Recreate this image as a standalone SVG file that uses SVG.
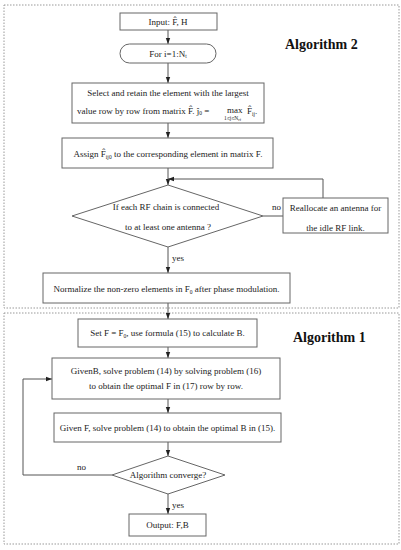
<svg xmlns="http://www.w3.org/2000/svg" width="401" height="550" viewBox="0 0 401 550">
<defs>
<marker id="ah" markerUnits="userSpaceOnUse" markerWidth="6" markerHeight="6" viewBox="0 0 6 6" refX="6" refY="3" orient="auto">
<path d="M0,0.8 L6,3 L0,5.2 Z" fill="#222"/>
</marker>
<style>
.box{fill:#fff;stroke:#666;stroke-width:1}
.frame{fill:none;stroke:#999;stroke-width:1;stroke-dasharray:1.5,1.5}
.t{font-family:"Liberation Serif","Times New Roman",serif;font-size:9px;fill:#222;text-anchor:middle}
.l{font-family:"Liberation Serif","Times New Roman",serif;font-size:9px;fill:#222}
.alg{font-family:"Liberation Serif","Times New Roman",serif;font-size:14px;font-weight:bold;fill:#111}
.c{fill:none;stroke:#555;stroke-width:1}
.s{font-size:5.5px}
</style>
</defs>
<rect width="401" height="550" fill="#fff"/>
<rect class="frame" x="4" y="5" width="395" height="303"/>
<rect class="frame" x="4" y="313" width="395" height="231"/>
<text class="alg" x="285" y="49">Algorithm 2</text>
<text class="alg" x="293" y="342">Algorithm 1</text>

<g id="connectors">
<line class="c" x1="168" y1="30" x2="168" y2="44" marker-end="url(#ah)"/>
<line class="c" x1="168" y1="63" x2="168" y2="83" marker-end="url(#ah)"/>
<line class="c" x1="168" y1="123" x2="168" y2="138" marker-end="url(#ah)"/>
<line class="c" x1="168" y1="168" x2="168" y2="185" marker-end="url(#ah)"/>
<line class="c" x1="263" y1="216" x2="283" y2="216"/>
<polyline class="c" points="323,198 323,179 168,179" marker-end="url(#ah)"/>
<line class="c" x1="168" y1="247" x2="168" y2="273" marker-end="url(#ah)"/>
<line class="c" x1="168" y1="303" x2="168" y2="319" marker-end="url(#ah)"/>
<line class="c" x1="168" y1="347" x2="168" y2="358" marker-end="url(#ah)"/>
<line class="c" x1="168" y1="399" x2="168" y2="413" marker-end="url(#ah)"/>
<line class="c" x1="168" y1="442" x2="168" y2="456" marker-end="url(#ah)"/>
<polyline class="c" points="112,475 23,475 23,379 52,379" marker-end="url(#ah)"/>
<line class="c" x1="168" y1="494" x2="168" y2="514" marker-end="url(#ah)"/>
<text class="l" x="272" y="210">no</text>
<text class="l" x="172" y="261">yes</text>
<text class="l" x="77" y="470">no</text>
<text class="l" x="172" y="508">yes</text>
</g>

<g id="input">
<rect class="box" x="120" y="13" width="97" height="17"/>
<text class="t" x="168" y="24.5">Input:  F̂, H</text>
</g>

<g id="loop">
<rect class="box" x="120" y="44" width="96" height="19" rx="9.5"/>
<text class="t" x="168" y="56.5">For i=1:N<tspan class="s" dy="1.5">t</tspan></text>
</g>

<g id="select">
<rect class="box" x="72" y="83" width="192" height="40"/>
<text class="t" x="168" y="96">Select and retain the element with the largest</text>
<text class="l" x="77" y="114">value row by row from matrix  F̂.  ĵ<tspan class="s" dy="1">0</tspan><tspan dy="-1"> =</tspan></text>
<text class="l" x="227" y="113">max</text>
<text class="l s" x="224" y="120">1≤j≤N<tspan font-size="4" dy="1">rf</tspan></text>
<text class="l" x="247" y="114">F̂<tspan class="s" dy="1.5">ij</tspan><tspan dy="-1.5">.</tspan></text>
</g>

<g id="assign">
<rect class="box" x="62" y="138" width="211" height="30"/>
<text class="t" x="168" y="157">Assign  F̂<tspan class="s" dy="1.5">ij0</tspan><tspan dy="-1.5">  to the corresponding element in matrix F.</tspan></text>
</g>

<g id="check">
<polygon class="box" points="168,185 263,216 168,247 72,216"/>
<text class="t" x="166" y="210">If each RF chain is connected</text>
<text class="t" x="168" y="230">to at least one antenna ?</text>
</g>

<g id="reallocate">
<rect class="box" x="283" y="198" width="105" height="35"/>
<text class="t" x="335.5" y="211">Reallocate an antenna for</text>
<text class="t" x="335.5" y="231">the idle RF link.</text>
</g>

<g id="normalize">
<rect class="box" x="43" y="273" width="247" height="30"/>
<text class="t" x="166.5" y="292">Normalize the non-zero elements in  F<tspan class="s" dy="1.5">0</tspan><tspan dy="-1.5">  after phase modulation.</tspan></text>
</g>

<g id="set">
<rect class="box" x="78" y="319" width="179" height="28"/>
<text class="t" x="167.5" y="336">Set  F = F<tspan class="s" dy="1.5">0</tspan><tspan dy="-1.5">, use formula (15) to calculate B.</tspan></text>
</g>

<g id="givenB">
<rect class="box" x="52" y="358" width="228" height="41"/>
<text class="t" x="166" y="374">GivenB, solve problem (14) by solving problem (16)</text>
<text class="t" x="166" y="389">to obtain the optimal F in (17) row by row.</text>
</g>

<g id="givenF">
<rect class="box" x="54" y="413" width="227" height="29"/>
<text class="t" x="167.5" y="431">Given F, solve problem (14) to obtain the optimal B in (15).</text>
</g>

<g id="converge">
<polygon class="box" points="168,456 225,475 168,494 112,475"/>
<text class="t" x="168" y="478">Algorithm converge?</text>
</g>

<g id="output">
<rect class="box" x="129" y="514" width="77" height="22"/>
<text class="t" x="167.5" y="528">Output:  F,B</text>
</g>
</svg>
